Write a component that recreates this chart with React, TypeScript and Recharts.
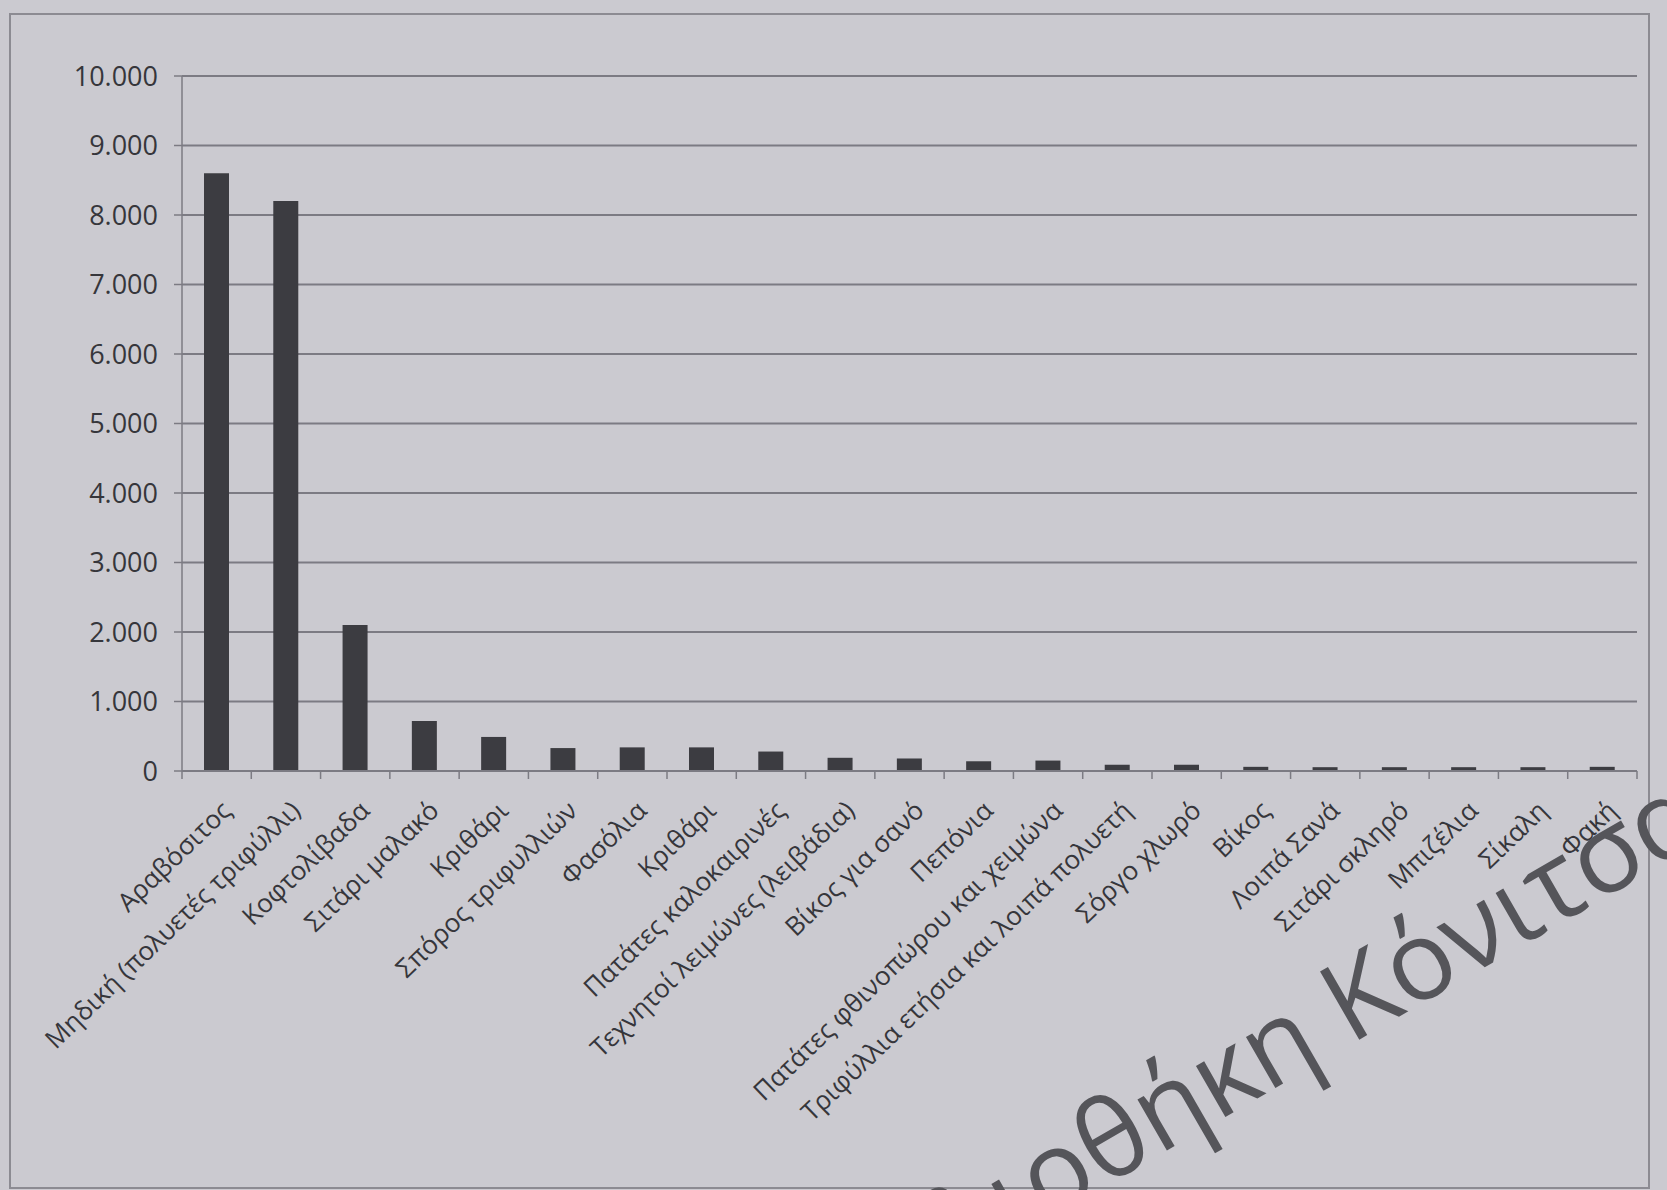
import React from 'react';
import { BarChart, Bar, XAxis, YAxis, CartesianGrid } from 'recharts';

const categories = [
  'Αραβόσιτος',
  'Μηδική (πολυετές τριφύλλι)',
  'Κοφτολίβαδα',
  'Σιτάρι μαλακό',
  'Κριθάρι',
  'Σπόρος τριφυλλιών',
  'Φασόλια',
  'Κριθάρι',
  'Πατάτες καλοκαιρινές',
  'Τεχνητοί λειμώνες (λειβάδια)',
  'Βίκος για σανό',
  'Πεπόνια',
  'Πατάτες φθινοπώρου και χειμώνα',
  'Τριφύλλια ετήσια και λοιπά πολυετή',
  'Σόργο χλωρό',
  'Βίκος',
  'Λοιπά Σανά',
  'Σιτάρι σκληρό',
  'Μπιζέλια',
  'Σίκαλη',
  'Φακή',
];

const values = [8600, 8200, 2100, 720, 490, 330, 340, 340, 280, 190, 180, 140, 150, 90, 90, 60, 55, 55, 55, 55, 60];

const yTicks = [0, 1000, 2000, 3000, 4000, 5000, 6000, 7000, 8000, 9000, 10000];

const data = categories.map((name, i) => ({ idx: i, name, value: values[i] }));

const W = 1667;
const H = 1190;
const margin = { top: 76, right: 30, bottom: 40, left: 0 };
const yAxisW = 182;
const xAxisH = 379;
const plotW = W - margin.left - margin.right - yAxisW;
const band = plotW / categories.length;

const font = '"Open Sans", sans-serif';
const textColor = '#36363b';
const lineColor = '#7c7b83';

const CategoryTick = (props: any) => {
  const { x, y, payload, index } = props;
  const left = x - band / 2;
  return (
    <g>
      <line x1={left} y1={y} x2={left} y2={y + 8} stroke={lineColor} strokeWidth={1.5} />
      {index === categories.length - 1 && (
        <line x1={x + band / 2} y1={y} x2={x + band / 2} y2={y + 8} stroke={lineColor} strokeWidth={1.5} />
      )}
      <text
        transform={`translate(${x + 3},${y + 28}) rotate(-44)`}
        textAnchor="end"
        dy="0.72em"
        fontFamily={font}
        fontSize={26}
        fill={textColor}
      >
        {categories[payload.value]}
      </text>
    </g>
  );
};

const fmt = (v: number) => v.toLocaleString('de-DE');

export default function App() {
  return (
    <div
      style={{
        position: 'absolute',
        left: 0,
        top: 0,
        width: W,
        height: H,
        overflow: 'hidden',
        background: '#cbcad0',
      }}
    >
      <div
        style={{
          position: 'absolute',
          left: 9,
          top: 13,
          width: 1637,
          height: 1172,
          border: '2px solid #8c8b92',
        }}
      />
      <div style={{ position: 'absolute', left: 0, top: 0 }}>
        <BarChart width={W} height={H} data={data} margin={margin} barSize={25}>
          <CartesianGrid vertical={false} stroke={lineColor} strokeWidth={1.8} />
          <XAxis
            dataKey="idx"
            type="category"
            interval={0}
            height={xAxisH}
            tickSize={0}
            tickMargin={0}
            tickLine={false}
            axisLine={{ stroke: lineColor, strokeWidth: 1.8 }}
            tick={<CategoryTick />}
          />
          <YAxis
            width={yAxisW}
            domain={[0, 10000]}
            ticks={yTicks}
            interval={0}
            tickFormatter={fmt}
            tickSize={8}
            tickMargin={16}
            axisLine={{ stroke: lineColor, strokeWidth: 1.5 }}
            tickLine={{ stroke: lineColor, strokeWidth: 1.5 }}
            tick={{ fontFamily: font, fontSize: 27, fill: textColor }}
          />
          <Bar dataKey="value" fill="#3c3c41" isAnimationActive={false} />
        </BarChart>
      </div>
      <svg
        width={W}
        height={H}
        style={{ position: 'absolute', left: 0, top: 0, pointerEvents: 'none' }}
      >
        <g transform="translate(1350,1045) rotate(-30)">
          <text x={-28} y={0} textAnchor="end" fontFamily={font} fontSize={110} fill="#55555a">
            Βιβλιοθήκη
          </text>
          <text x={0} y={0} textAnchor="start" fontFamily={font} fontSize={110} fill="#55555a">
            Κόνιτσας
          </text>
        </g>
      </svg>
    </div>
  );
}
